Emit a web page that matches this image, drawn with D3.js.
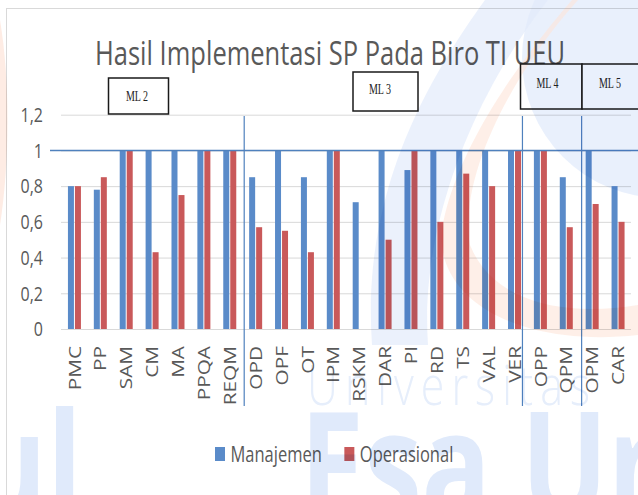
<!DOCTYPE html>
<html>
<head>
<meta charset="utf-8">
<script src="https://cdn.jsdelivr.net/npm/d3@7"></script>
<style>
  body { margin: 0; background: #fff; }
  svg { display: block; }
  text { font-family: "Open Sans", sans-serif; }
</style>
</head>
<body>
<svg id="chart" width="638" height="495"></svg>
<script>
const categories = ["PMC", "PP", "SAM", "CM", "MA", "PPQA", "REQM", "OPD", "OPF", "OT", "IPM",
                    "RSKM", "DAR", "PI", "RD", "TS", "VAL", "VER", "OPP", "QPM", "OPM", "CAR"]
const manajemen   = [0.8, 0.78, 1, 1, 1, 1, 1, 0.85, 1, 0.85, 1, 0.71, 1, 0.89, 1, 1, 1, 1, 1, 0.85, 1, 0.8]
const operasional = [0.8, 0.85, 1, 0.43, 0.75, 1, 1, 0.57, 0.55, 0.43, 1, 0, 0.5, 1, 0.6, 0.87, 0.8, 1, 1, 0.57, 0.7, 0.6]
const seriesNames = ["Manajemen", "Operasional"]
const yTicks = [0, 0.2, 0.4, 0.6, 0.8, 1, 1.2]
const title = "Hasil Implementasi SP Pada Biro TI UEU"
const levelLabels = ["ML 2", "ML 3", "ML 4", "ML 5"]
const levelStarts = ["OPD", "OPP", "OPM"]   // a separator line stands before each of these

const colors = ["#5a8bc9", "#c9595a"]
const textColor = "#595959"
const lineBlue = "#4f81bd"

const svg = d3.select("#chart")

// rows for the bars
const rows = categories.map((c, i) => ({cat: c, values: [manajemen[i], operasional[i]]}))

const x = d3.scaleBand().domain(categories).range([61.5, 631])
const bw = x.bandwidth()
const x1 = d3.scaleBand().domain(seriesNames).range([bw / 2 - 6.5, bw / 2 + 6.5]).paddingInner(1 / 7)
const y = d3.scaleLinear().domain([0, 1.2]).range([329, 114.7])

const fmt = d3.formatLocale({decimal: ",", thousands: ".", grouping: [3], currency: ["", ""]}).format("~g")

// chart frame (only top and left are inside the picture)
svg.append("rect")
    .attr("x", 6.5).attr("y", 8.5).attr("width", 700).attr("height", 600)
    .attr("fill", "none").attr("stroke", "#d9d9d9")

// title
svg.append("text")
    .attr("transform", "translate(95,65) scale(1,1.3)")
    .attr("font-size", 24.7)
    .attr("fill", textColor)
    .attr("textLength", 470)
    .attr("lengthAdjust", "spacingAndGlyphs")
    .text(title)

// gridlines + y labels
const yAxis = svg.append("g")
    .attr("transform", "translate(61,0)")
    .call(d3.axisLeft(y).tickValues(yTicks).tickSize(-570).tickFormat(""))
yAxis.select(".domain").remove()
yAxis.selectAll("line").attr("stroke", "#d9d9d9")

svg.append("g").selectAll("text")
    .data(yTicks)
    .join("text")
    .attr("transform", d => `translate(43,${y(d)}) scale(1,1.3)`)
    .attr("dy", "0.35em")
    .attr("text-anchor", "end")
    .attr("font-size", 16)
    .attr("fill", textColor)
    .text(d => fmt(d))

// bars
const group = svg.append("g").selectAll("g")
    .data(rows)
    .join("g")
    .attr("transform", d => `translate(${x(d.cat)},0)`)

group.selectAll("rect")
    .data(d => d.values.map((v, k) => ({name: seriesNames[k], value: v, k: k})))
    .join("rect")
    .attr("x", d => x1(d.name))
    .attr("y", d => y(d.value))
    .attr("width", x1.bandwidth())
    .attr("height", d => y(0) - y(d.value))
    .attr("fill", d => colors[d.k])

// x labels
svg.append("g").selectAll("text")
    .data(categories)
    .join("text")
    .attr("transform", d => `translate(${x(d) + bw / 2 + 0.5},346) scale(1,1.3) rotate(-90)`)
    .attr("dy", "0.35em")
    .attr("text-anchor", "end")
    .attr("font-size", 16)
    .attr("fill", textColor)
    .text(d => d)

// blue line at 1
svg.append("line")
    .attr("x1", 50).attr("x2", 638)
    .attr("y1", y(1)).attr("y2", y(1))
    .attr("stroke", lineBlue).attr("stroke-width", 1.5)

// level separators (hand placed in the original, so small nudges)
const nudge = [1.5, -5, 2.4]
svg.append("g").selectAll("line")
    .data(levelStarts)
    .join("line")
    .attr("x1", (d, i) => x(d) + nudge[i])
    .attr("x2", (d, i) => x(d) + nudge[i])
    .attr("y1", 116).attr("y2", 406)
    .attr("stroke", lineBlue).attr("stroke-width", 1.2)

// ML boxes
const boxes = [
    {x: 108.5, y: 78, w: 60, h: 36, tx: 137, ty: 101},
    {x: 353, y: 72, w: 65, h: 39, tx: 380, ty: 94},
    {x: 520.5, y: 64, w: 61.5, h: 45, tx: 547.5, ty: 88},
    {x: 582, y: 64, w: 70, h: 45, tx: 610, ty: 88}
]
const box = svg.append("g").selectAll("g")
    .data(levelLabels)
    .join("g")
box.append("rect")
    .attr("x", (d, i) => boxes[i].x).attr("y", (d, i) => boxes[i].y)
    .attr("width", (d, i) => boxes[i].w).attr("height", (d, i) => boxes[i].h)
    .attr("fill", "#fff").attr("stroke", "#1a1a1a").attr("stroke-width", 1.5)
box.append("text")
    .attr("transform", (d, i) => `translate(${boxes[i].tx},${boxes[i].ty}) scale(0.95,1.45)`)
    .attr("text-anchor", "middle")
    .style("font-family", "'Liberation Serif', serif")
    .attr("font-size", 10.5)
    .attr("fill", "#222")
    .text(d => d)

// legend
const legend = svg.append("g")
let lx = 215
seriesNames.forEach((name, k) => {
    legend.append("rect")
        .attr("x", lx).attr("y", 447).attr("width", 10).attr("height", 14)
        .attr("fill", colors[k])
    const t = legend.append("text")
        .attr("transform", `translate(${lx + 15.5},461.7) scale(1,1.3)`)
        .attr("font-size", 16.5)
        .attr("fill", textColor)
        .text(name)
    lx = lx + 15.5 + t.node().getComputedTextLength() + 22.5
})

// watermark of the page (logo + text), laid over everything
const wm = svg.append("g").style("mix-blend-mode", "multiply").attr("pointer-events", "none")
wm.append("circle").attr("cx", 662).attr("cy", 58).attr("r", 140)
    .attr("fill", "#e2ebfb").attr("opacity", 0.75)
wm.append("path")
    .attr("d", "M485,0 C420,90 362,200 372,345 L428,345 C420,230 470,100 548,0 Z")
    .attr("fill", "#e2ebfb").attr("opacity", 0.7)
wm.append("path")
    .attr("d", "M572,0 C520,60 455,150 442,230 C435,300 520,348 638,335 L638,305 C560,318 492,300 470,245 C458,175 515,70 578,0 Z")
    .attr("fill", "#fde4d8").attr("opacity", 0.6)
wm.append("path")
    .attr("d", "M0,20 C10,80 10,160 0,225 L0,20 Z")
    .attr("fill", "#fde0d2").attr("opacity", 0.6)
wm.append("text")
    .attr("transform", "translate(307,405) scale(1,1.3)")
    .attr("font-size", 43).attr("font-weight", 300).attr("letter-spacing", 7)
    .attr("fill", "#e6eefb")
    .text("Universitas")
wm.append("text")
    .attr("transform", "translate(300,519) scale(1,1.3)")
    .attr("font-size", 115).attr("font-weight", 700)
    .attr("fill", "#e0eafb")
    .text("Esa Un")
wm.append("text")
    .attr("transform", "translate(82,519) scale(1,1.3)")
    .attr("text-anchor", "end")
    .attr("font-size", 115).attr("font-weight", 700)
    .attr("fill", "#e0eafb")
    .text("ul")
</script>
</body>
</html>
